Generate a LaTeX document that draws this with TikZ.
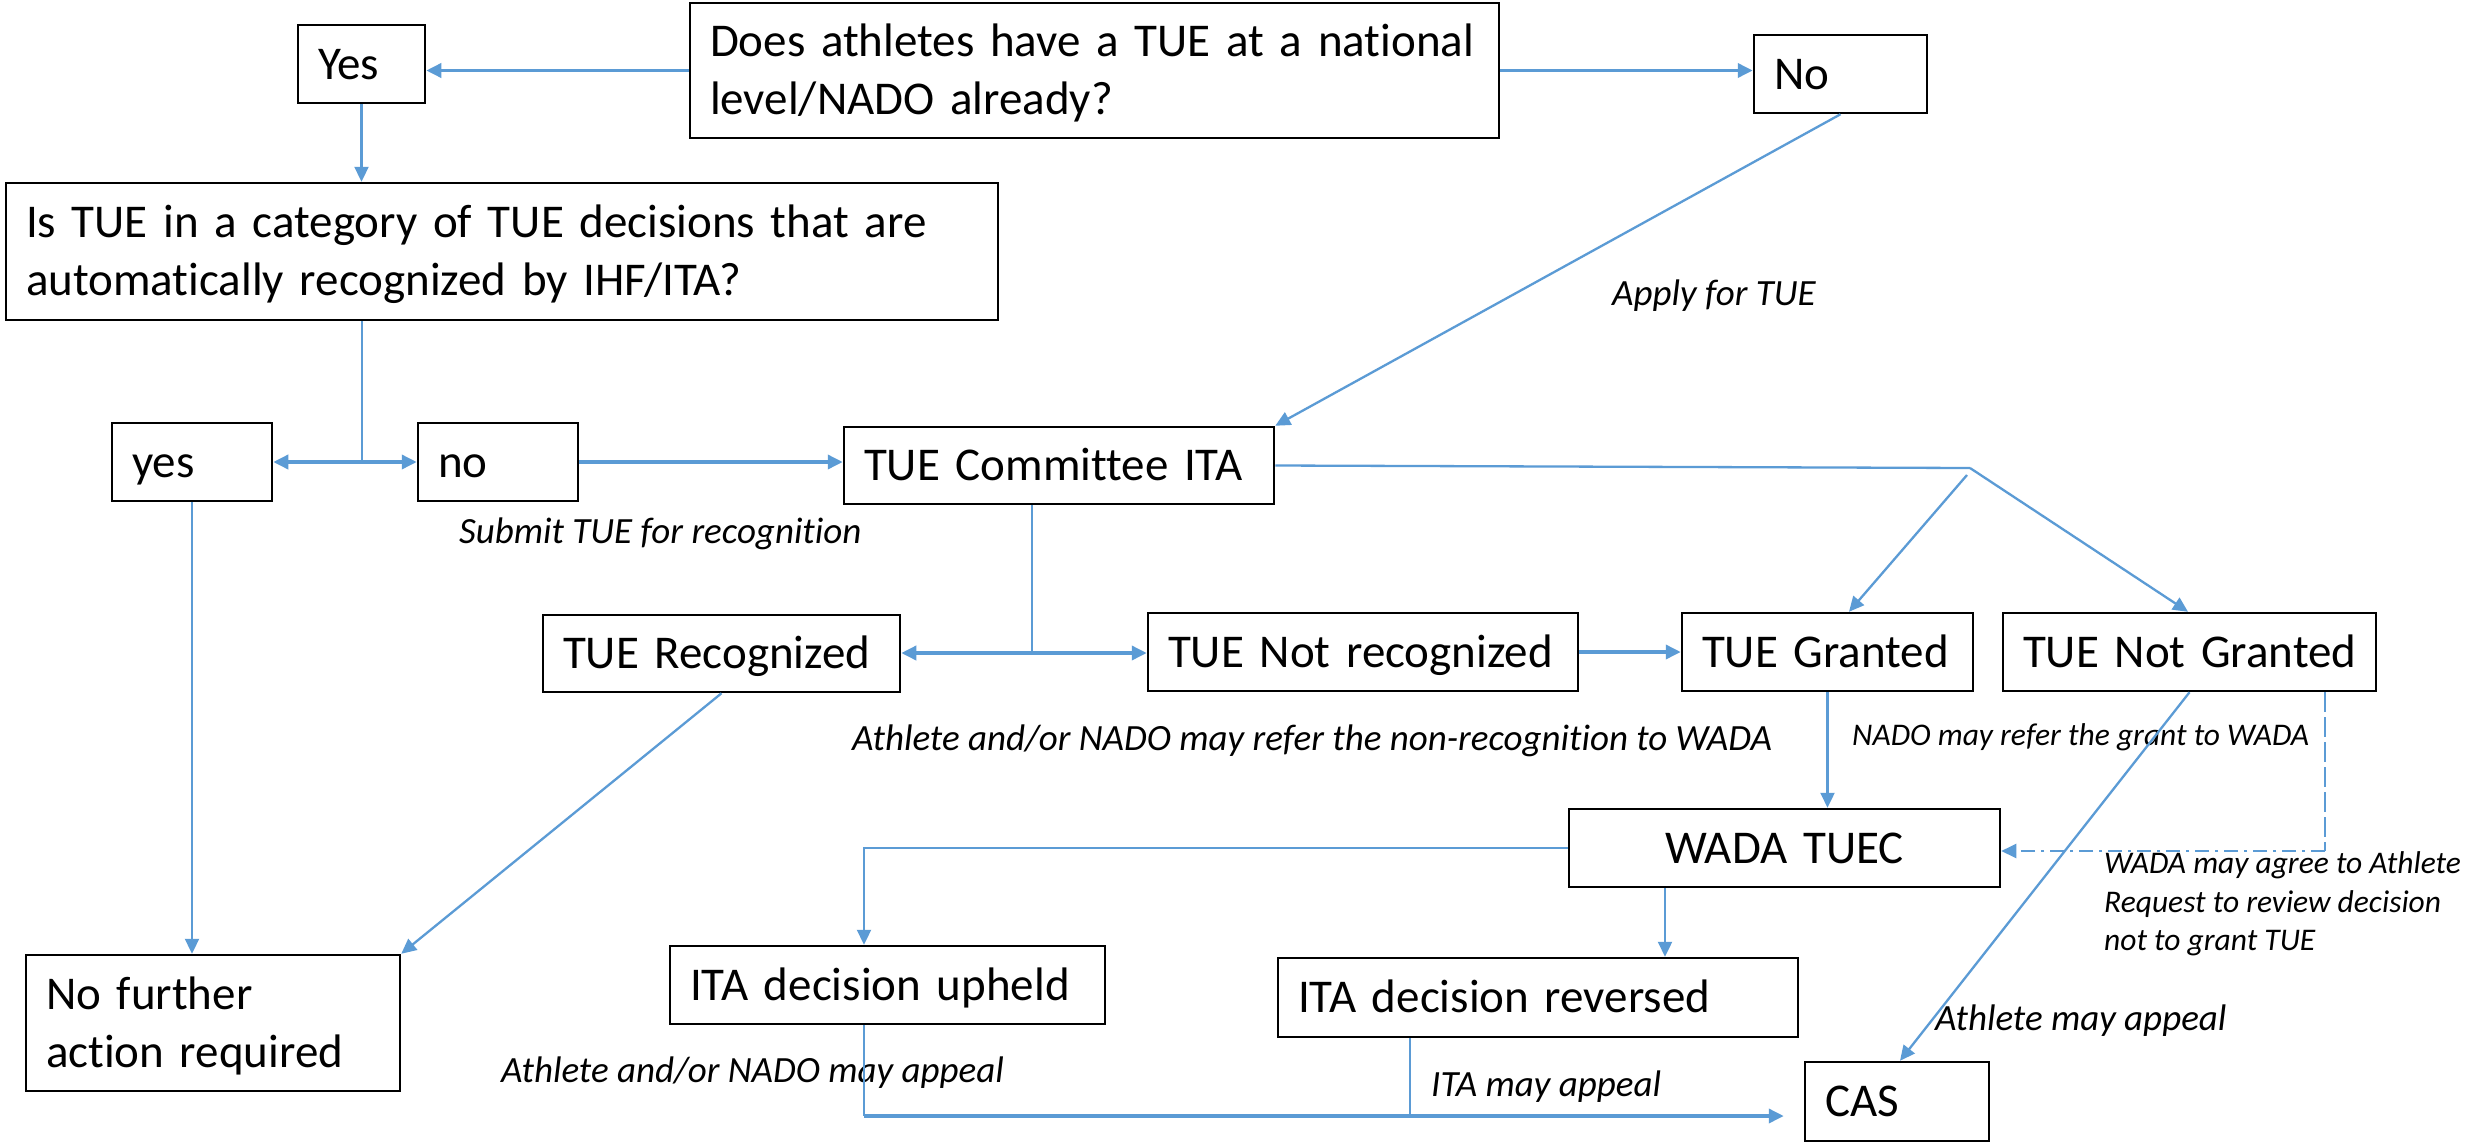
\documentclass[tikz,border=0pt]{standalone}
\usepackage{fontspec}
\setmainfont{Carlito}[Ligatures=CommonOff]
\usetikzlibrary{arrows.meta}
\definecolor{tblue}{RGB}{91,155,213}
\newcommand\bst{\rule[-14pt]{0pt}{58pt}}
\newcommand\bigf{\fontsize{47}{58}\selectfont}
\newcommand\labf{\fontsize{37}{45}\selectfont\itshape}
\newcommand\smallf{\fontsize{31.5}{38.5}\selectfont\itshape}
\begin{document}
\begin{tikzpicture}[x=1pt,y=-1pt,
  box/.style={draw=black, line width=2.5pt, rectangle, inner xsep=20pt, inner ysep=0pt, align=left, font=\bigf},
  tip/.style={-{Triangle[length=15pt,width=14pt]}},
  thk/.style={draw=tblue, line width=3.5pt},
  med/.style={draw=tblue, line width=2.3pt},
  thn/.style={draw=tblue, line width=1.3pt},
  lab/.style={inner sep=0pt, anchor=base west, font=\labf},
  slab/.style={inner sep=0pt, anchor=base west, font=\smallf}]
\fill[white] (0,0) rectangle (2471,1146);
\useasboundingbox (0,0) rectangle (2471,1146);

% boxes
\node[box, minimum width=809pt, minimum height=135pt, text width=769pt] (q) at (1094.5,70.5)
  {\mbox{\bst Does athletes have a TUE at a national}\\\mbox{\bst level/NADO already?}};
\node[box, minimum width=127pt, minimum height=78pt, text width=87pt] (yes1) at (361.5,64) {\mbox{\bst Yes}};
\node[box, minimum width=173pt, minimum height=78pt, text width=133pt] (no1) at (1840.5,74) {\mbox{\bst No}};
\node[box, minimum width=992pt, minimum height=137pt, text width=952pt] (istue) at (502,251.5)
  {\mbox{\bst Is TUE in a category of TUE decisions that are}\\\mbox{\bst automatically recognized by IHF/ITA?}};
\node[box, minimum width=160pt, minimum height=78pt, text width=120pt] (yes2) at (192,462) {\mbox{\bst yes}};
\node[box, minimum width=160pt, minimum height=78pt, text width=120pt] (no2) at (498,462) {\mbox{\bst no}};
\node[box, minimum width=430pt, minimum height=77pt, text width=390pt] (comm) at (1059,465.5) {\mbox{\bst TUE Committee ITA}};
\node[box, minimum width=357pt, minimum height=77pt, text width=317pt] (rec) at (721.5,653.5) {\mbox{\bst TUE Recognized}};
\node[box, minimum width=430pt, minimum height=78pt, text width=390pt] (notrec) at (1363,652) {\mbox{\bst TUE Not recognized}};
\node[box, minimum width=291pt, minimum height=78pt, text width=251pt] (granted) at (1827.5,652) {\mbox{\bst TUE Granted}};
\node[box, minimum width=373pt, minimum height=78pt, text width=333pt] (notgranted) at (2189.5,652) {\mbox{\bst TUE Not Granted}};
\node[box, align=center, minimum width=431pt, minimum height=78pt, text width=391pt] (wada) at (1784.5,848) {\mbox{\bst WADA TUEC}};
\node[box, minimum width=435pt, minimum height=78pt, text width=395pt] (upheld) at (887.5,985) {\mbox{\bst ITA decision upheld}};
\node[box, minimum width=520pt, minimum height=79pt, text width=480pt] (reversed) at (1538,997.5) {\mbox{\bst ITA decision reversed}};
\node[box, minimum width=184pt, minimum height=79pt, text width=144pt] (cas) at (1897,1101.5) {\mbox{\bst CAS}};
\node[box, minimum width=374pt, minimum height=136pt, text width=334pt] (nofurther) at (213,1023)
  {\mbox{\bst No further}\\\mbox{\bst action required}};

% labels
\node[lab] (l1) at (1612,305) {Apply for TUE};
\node[lab] (l2) at (459,543) {Submit TUE for recognition};
\node[lab] (l3) at (852,750) {Athlete and/or NADO may refer the non-recognition to WADA};
\node[slab] (l4) at (1852,745) {NADO may refer the grant to WADA};
\node[slab] (l5a) at (2104,873) {WADA may agree to Athlete};
\node[slab] (l5b) at (2104,912) {Request to review decision};
\node[slab] (l5c) at (2104,950) {not to grant TUE};
\node[lab] (l6) at (1935,1030) {Athlete may appeal};
\node[lab] (l7) at (1431,1096) {ITA may appeal};
\node[lab] (l8) at (501,1082) {Athlete and/or NADO may appeal};

% coordinates
\coordinate (j1) at (362,462);
\coordinate (j2) at (1032,653);
\coordinate (sp) at (1970,468);
\coordinate (dd) at (2325,851);
\coordinate (bt) at (864,1116);

% connectors
\draw[thk,tip] (q.west) -- (q.west -| yes1.east);
\draw[thk,tip] (q.east) -- (q.east -| no1.west);
\draw[med,tip] (yes1.south) -- (yes1.south |- istue.north);
\draw[thn] (j1 |- istue.south) -- (j1);
\draw[thk,tip] (j1) -- (j1 -| yes2.east);
\draw[thk,tip] (j1) -- (j1 -| no2.west);
\draw[thk,tip] (no2.east) -- (no2.east -| comm.west);
\draw[med,tip] (no1.south) -- (comm.north east);
\draw[med,tip] (yes2.south) -- (yes2.south |- nofurther.north);
\draw[thn] (j2 |- comm.south) -- (j2);
\draw[thk,tip] (j2) -- (j2 -| rec.east);
\draw[thk,tip] (j2) -- (j2 -| notrec.west);
\draw[thk,tip] (notrec.east) -- (granted.west);
\draw[med] (comm.east) -- (sp);
\draw[med,tip] ([xshift=-3pt,yshift=-7pt]sp) -- ([xshift=21.5pt]granted.north);
\draw[med,tip] (sp) -- ([xshift=-1.5pt]notgranted.north);
\draw[med,tip] (rec.south) -- (nofurther.north east);
\draw[med,tip] (granted.south) -- (granted.south |- wada.north);
\draw[med,tip] (notgranted.south) -- ([xshift=3pt]cas.north);
\draw[thn, line width=1.8pt, dash pattern=on 20pt off 5pt] (dd |- notgranted.south) -- (dd);
\draw[thn, line width=2pt, dash pattern=on 14pt off 6pt on 3pt off 6pt, tip] (dd) -- (dd -| wada.east);
\draw[med,tip] (wada.west) -| ([xshift=-23.5pt]upheld.north);
\draw[med,tip] ([xshift=-119.5pt]wada.south) -- ([xshift=-119.5pt]wada.south |- reversed.north);
\draw[thn] ([xshift=-23.5pt]upheld.south) -- (bt);
\draw[thn] ([xshift=-128pt]reversed.south) -- ([xshift=-128pt]reversed.south |- bt);
\draw[thk,tip,shorten >=20pt] (bt) -- (bt -| cas.west);
\end{tikzpicture}
\end{document}
